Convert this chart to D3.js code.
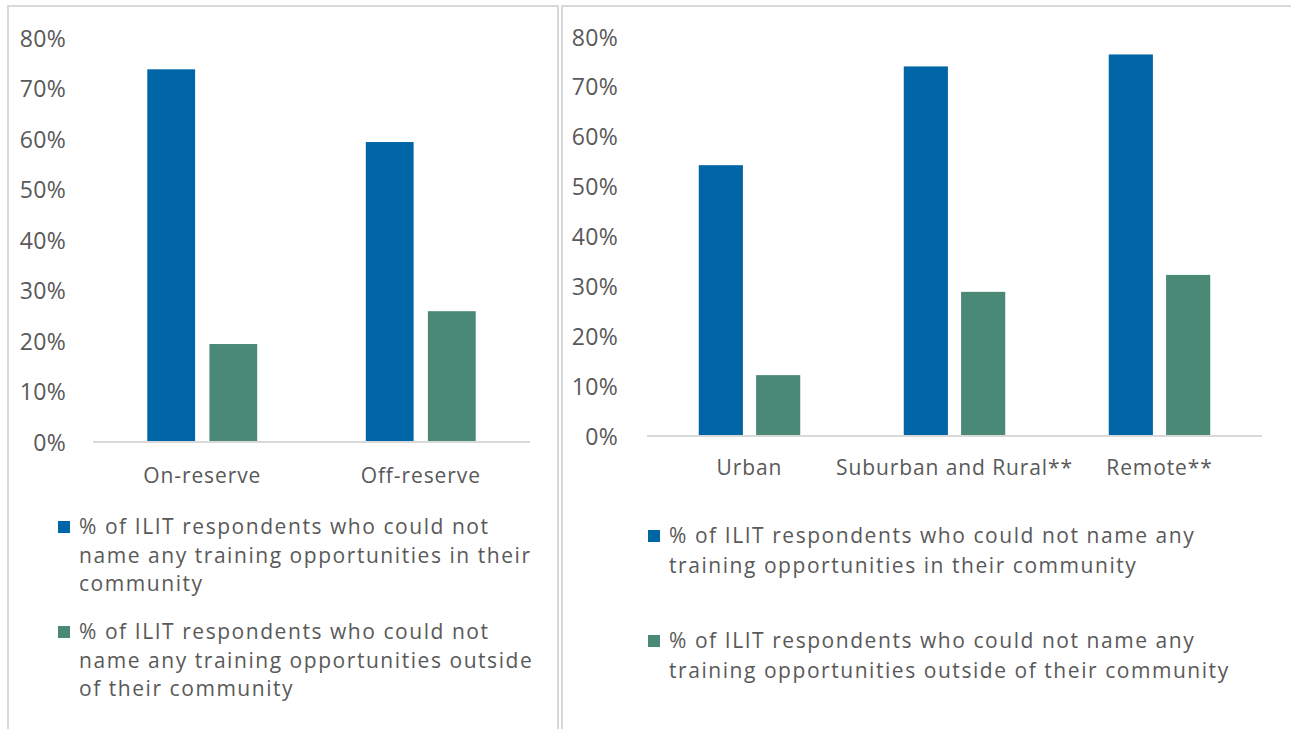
<!DOCTYPE html>
<html lang="en">
<head>
<meta charset="utf-8">
<title>ILIT training opportunities</title>
<script src="https://d3js.org/d3.v7.min.js"></script>
<style>
  body { margin: 0; background: #fff; }
  svg text { font-family: "Open Sans", Lato, sans-serif; fill: #595959; }
</style>
</head>
<body>
<svg id="chart" width="1291" height="729"></svg>
<script>
// colours
var blue = "#0065a6"
var green = "#4a8975"
var gridGray = "#d9d9d9"

// data (percent)
var yTicks = [0, 10, 20, 30, 40, 50, 60, 70, 80]
var seriesKeys = ["inCommunity", "outside"]

var leftCategories = ["On-reserve", "Off-reserve"]
var leftInCommunity = [73.8, 59.4]
var leftOutside = [19.4, 25.9]

var rightCategories = ["Urban", "Suburban and Rural**", "Remote**"]
var rightInCommunity = [54.3, 74.1, 76.5]
var rightOutside = [12.2, 28.9, 32.3]

// legend texts, already broken the way the original wraps them
var leftLegendLines = [
  ["% of ILIT respondents who could not", "name any training opportunities in their", "community"],
  ["% of ILIT respondents who could not", "name any training opportunities outside", "of their community"]
]
var rightLegendLines = [
  ["% of ILIT respondents who could not name any", "training opportunities in their community"],
  ["% of ILIT respondents who could not name any", "training opportunities outside of their community"]
]

var fontSize = 21
var labelSpacing = "0.9px"
var legendSpacing = "1.55px"

var svg = d3.select("#chart")

function drawPanel(cfg) {
  var g = svg.append("g")

  // panel frame
  g.append("rect")
    .attr("x", cfg.frame[0]).attr("y", cfg.frame[1])
    .attr("width", cfg.frame[2]).attr("height", cfg.frame[3])
    .attr("fill", "none").attr("stroke", gridGray).attr("stroke-width", 2)

  var y = d3.scaleLinear().domain([0, 80]).range([cfg.y0, cfg.y80])

  var x0 = d3.scaleBand()
    .domain(cfg.categories)
    .range([cfg.xLeft, cfg.xRight])
    .paddingInner(cfg.groupPad)
    .paddingOuter(cfg.groupPad / 2)

  var x1 = d3.scaleBand()
    .domain(seriesKeys)
    .range([0, x0.bandwidth()])
    .paddingInner(0.23)

  var color = d3.scaleOrdinal().domain(seriesKeys).range([blue, green])

  var rows = cfg.categories.map((c, i) => ({
    cat: c,
    values: [
      {key: "inCommunity", v: cfg.inCommunity[i]},
      {key: "outside", v: cfg.outside[i]}
    ]
  }))

  // y axis labels
  var yAxis = g.append("g")
    .attr("transform", "translate(" + cfg.labelX + ",0)")
    .call(d3.axisLeft(y).tickValues(yTicks).tickFormat(d => d + "%").tickSize(0).tickPadding(0))
  yAxis.select(".domain").remove()
  yAxis.selectAll("text")
    .attr("font-size", 23).attr("fill", "#595959").attr("dy", "0.35em")
    .attr("font-family", null).style("letter-spacing", "0.3px")

  // bars
  g.append("g").selectAll("g")
    .data(rows)
    .join("g")
    .attr("transform", d => "translate(" + x0(d.cat) + ",0)")
    .selectAll("rect")
    .data(d => d.values)
    .join("rect")
    .attr("x", d => x1(d.key))
    .attr("width", x1.bandwidth())
    .attr("y", d => y(d.v))
    .attr("height", d => y(0) - y(d.v))
    .attr("fill", d => color(d.key))

  // baseline
  g.append("line")
    .attr("x1", cfg.xLeft).attr("x2", cfg.xRight)
    .attr("y1", y(0)).attr("y2", y(0))
    .attr("stroke", gridGray).attr("stroke-width", 2)

  // category labels
  var xAxis = g.append("g")
    .attr("transform", "translate(0," + y(0) + ")")
    .call(d3.axisBottom(x0).tickSize(0).tickPadding(cfg.catPad))
  xAxis.select(".domain").remove()
  xAxis.selectAll("text")
    .attr("font-size", fontSize).attr("fill", "#595959")
    .attr("font-family", null).style("letter-spacing", labelSpacing)

  // legend
  var leg = g.append("g").selectAll("g")
    .data(seriesKeys)
    .join("g")
    .attr("transform", (d, i) => "translate(" + cfg.legendX + "," + cfg.legendY[i] + ")")

  leg.append("rect")
    .attr("x", 0).attr("y", -6)
    .attr("width", 12).attr("height", 12)
    .attr("fill", d => color(d))

  leg.append("text")
    .attr("font-size", fontSize)
    .style("letter-spacing", legendSpacing)
    .selectAll("tspan")
    .data((d, i) => cfg.legendLines[i])
    .join("tspan")
    .attr("x", 21)
    .attr("y", (d, j) => j * cfg.lineHeight)
    .attr("dy", "0.35em")
    .text(d => d)
}

drawPanel({
  frame: [8, 6, 550, 740],
  categories: leftCategories,
  inCommunity: leftInCommunity,
  outside: leftOutside,
  y0: 442, y80: 38,
  xLeft: 93, xRight: 530,
  groupPad: 0.497,
  labelX: 66,
  catPad: 26,
  legendX: 58,
  legendY: [527, 632],
  legendLines: leftLegendLines,
  lineHeight: 28.5
})

drawPanel({
  frame: [562, 6, 740, 740],
  categories: rightCategories,
  inCommunity: rightInCommunity,
  outside: rightOutside,
  y0: 436, y80: 37,
  xLeft: 647, xRight: 1262,
  groupPad: 0.505,
  labelX: 618,
  catPad: 24,
  legendX: 648,
  legendY: [536, 641],
  legendLines: rightLegendLines,
  lineHeight: 29.5
})
</script>
</body>
</html>
